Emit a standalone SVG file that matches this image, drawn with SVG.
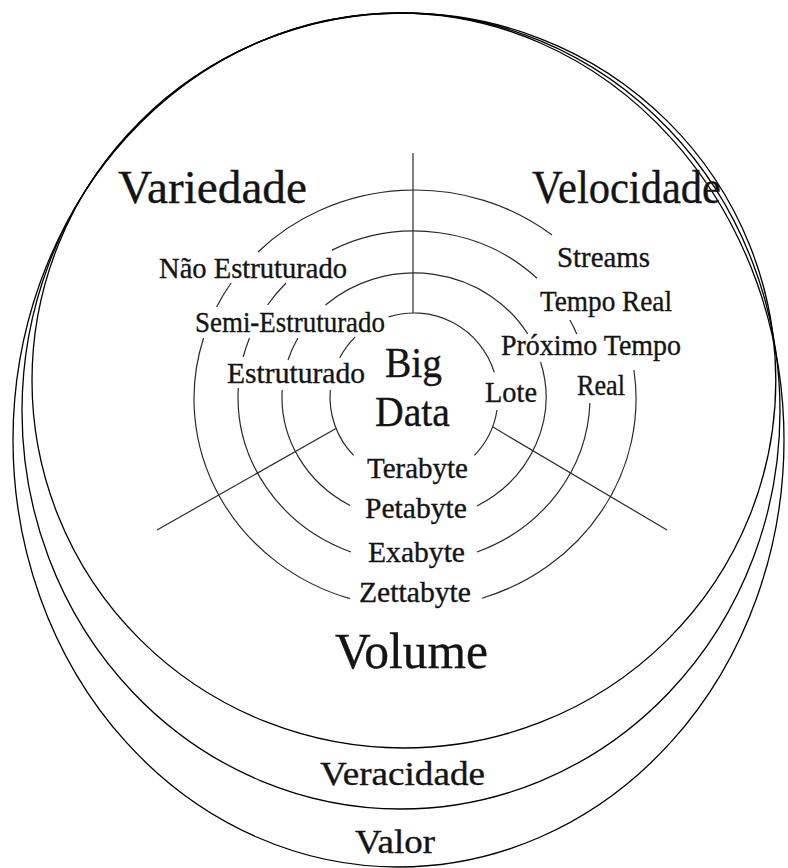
<svg xmlns="http://www.w3.org/2000/svg" width="788" height="868" viewBox="0 0 788 868">
<style>
.outer{fill:none;stroke:#000;stroke-width:1.3}
.ring{fill:none;stroke:#2a2a2a;stroke-width:1.2}
.spoke{fill:none;stroke:#2a2a2a;stroke-width:1.2}
text{font-family:"Liberation Serif","Times New Roman",serif;fill:#141414;stroke:#141414;stroke-width:0.35}
.s{font-size:30px}
.m{font-size:33px}
.b{font-size:42px}
.h{font-size:47px}
.v{font-size:50px}
</style>
<rect width="788" height="868" fill="#fff"/>
<g id="ring-valor"><ellipse class="outer" cx="398.5" cy="440" rx="385.5" ry="427"/><text class="m" x="355" y="853" textLength="80" lengthAdjust="spacingAndGlyphs">Valor</text></g>
<g id="ring-veracidade"><ellipse class="outer" cx="401" cy="411" rx="379" ry="398"/><text class="m" x="320" y="785" textLength="165" lengthAdjust="spacingAndGlyphs">Veracidade</text></g>
<g id="ring-volume"><ellipse class="outer" cx="403.9" cy="380.5" rx="371.9" ry="367.5"/><text class="v" x="335" y="668" textLength="153" lengthAdjust="spacingAndGlyphs">Volume</text></g>
<g id="scale-rings">
<path class="ring" d="M388.6,316.9 A84,84 0 0 1 494.2,372.2 M497,410 A84,84 0 0 1 474.4,455.4 M353.6,455.4 A84,84 0 0 1 330.3,390 M339.7,357.8 A84,84 0 0 1 355.1,337.1"/>
<path class="ring" d="M325.5,305 A132,124 0 0 1 527.7,334 M288,360 A132,124 0 0 1 297.9,338 M350,505.5 A132,124 0 0 1 282.2,390 M540.6,362 A132,124 0 0 1 477,506"/>
<path class="ring" d="M332,250.1 A176,166 0 0 1 537,278.3 M267.5,305 A176,166 0 0 1 286,283 M243.2,357 A176,166 0 0 1 249.5,338 M351,552 A176,166 0 0 1 238.3,388 M569.9,320 A176,166 0 0 1 576.8,334 M589.9,403 A176,166 0 0 1 477,552"/>
<path class="ring" d="M257.9,252 A221,209 0 0 1 552,235 M216.6,307 A221,209 0 0 1 231.1,283 M350,598.7 A221,209 0 0 1 203.6,338 M633.9,370 A221,209 0 0 1 482,598.2"/>
</g>
<g id="connectors">
<path class="spoke" d="M413,153 V313"/>
<path class="spoke" d="M336,428.5 L157,530"/>
<path class="spoke" d="M492.5,426.8 L667,530"/>
</g>
<g id="big-data"><text class="b" x="385" y="377" textLength="57" lengthAdjust="spacingAndGlyphs">Big</text><text class="b" x="375" y="426" textLength="75" lengthAdjust="spacingAndGlyphs">Data</text></g>
<g id="variedade">
<text class="h" x="118" y="203" textLength="189" lengthAdjust="spacingAndGlyphs">Variedade</text>
<text class="s" x="159" y="278" textLength="188" lengthAdjust="spacingAndGlyphs">Não Estruturado</text>
<text class="s" x="195" y="332" textLength="190" lengthAdjust="spacingAndGlyphs">Semi-Estruturado</text>
<text class="s" x="227" y="383" textLength="138" lengthAdjust="spacingAndGlyphs">Estruturado</text>
</g>
<g id="velocidade">
<text class="h" x="532" y="203" textLength="189" lengthAdjust="spacingAndGlyphs">Velocidade</text>
<text class="s" x="557" y="267" textLength="93" lengthAdjust="spacingAndGlyphs">Streams</text>
<text class="s" x="540" y="311" textLength="132" lengthAdjust="spacingAndGlyphs">Tempo Real</text>
<text class="s" x="501" y="355" textLength="180" lengthAdjust="spacingAndGlyphs">Próximo Tempo</text>
<text class="s" x="577" y="395" textLength="48" lengthAdjust="spacingAndGlyphs">Real</text>
<text class="s" x="485" y="402" textLength="52" lengthAdjust="spacingAndGlyphs">Lote</text>
</g>
<g id="volume-scale">
<text class="s" x="367" y="478" textLength="101" lengthAdjust="spacingAndGlyphs">Terabyte</text>
<text class="s" x="365" y="518" textLength="102" lengthAdjust="spacingAndGlyphs">Petabyte</text>
<text class="s" x="368" y="562" textLength="97" lengthAdjust="spacingAndGlyphs">Exabyte</text>
<text class="s" x="359" y="602" textLength="112" lengthAdjust="spacingAndGlyphs">Zettabyte</text>
</g>
</svg>
